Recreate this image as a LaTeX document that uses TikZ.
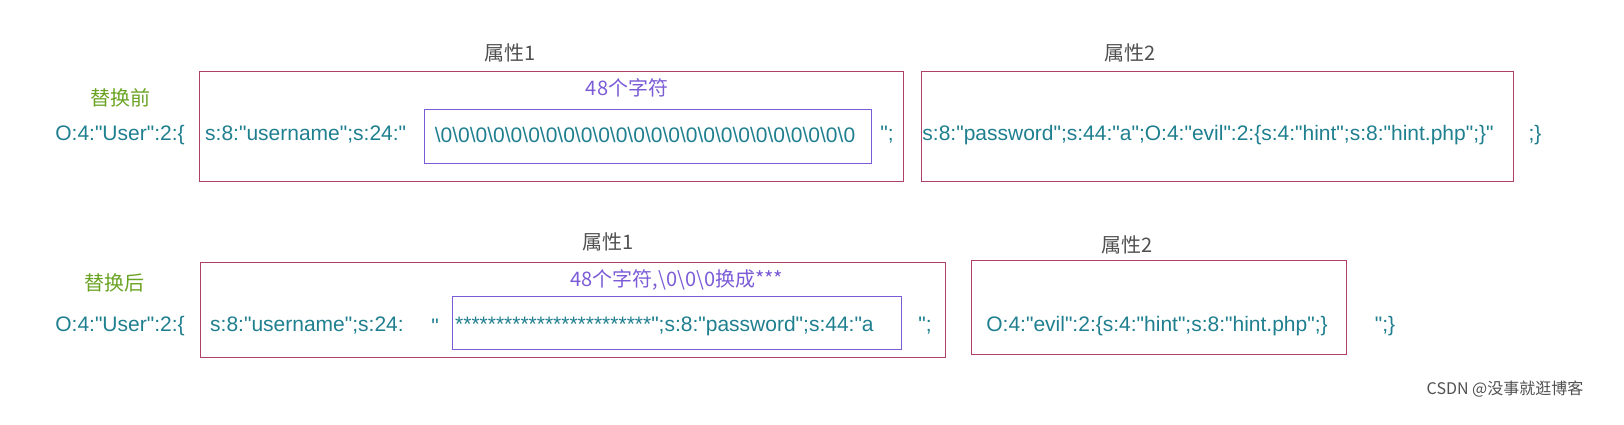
\documentclass[tikz,border=0pt]{standalone}
\usepackage{fontspec}
\setmainfont{Liberation Sans}[Ligatures=TeXOff]
\newfontfamily\cjk{Noto Sans CJK SC}[Ligatures=TeXOff]
\definecolor{teal}{HTML}{1F7F8F}
\definecolor{boxred}{HTML}{B0406A}
\definecolor{purp}{HTML}{7B5CD6}
\definecolor{grn}{HTML}{6AA322}
\definecolor{gr}{HTML}{505050}
\begin{document}
\begin{tikzpicture}[x=1pt,y=-1pt,
  t/.style={text=teal,font=\fontsize{21}{24}\selectfont,inner sep=0pt},
  lab/.style={text=gr,font=\cjk\fontsize{20}{22}\selectfont,inner sep=0pt},
  pl/.style={text=purp,font=\cjk\fontsize{20}{22}\selectfont,inner sep=0pt},
  gl/.style={text=grn,font=\cjk\fontsize{20}{22}\selectfont,inner sep=0pt},
  rb/.style={draw=boxred,line width=1pt},
  pb/.style={draw=purp,line width=1pt}]
\useasboundingbox (0,0) rectangle (1624,424);
% row 1
\node[lab] (a1) at (510,53) {属性1};
\node[lab] (a2) at (1130,53) {属性2};
\node[gl] (b1) at (120,98) {替换前};
\node[t] (u1) at (120,135) {O:4:"User":2:\{};
\draw[rb] (199,71) rectangle (903,181);
\draw[rb] (921,71) rectangle (1513,181);
\draw[pb] (424,109) rectangle (871,163);
\node[pl] (c1) at (627,88) {48个字符};
\node[t,anchor=west] (s1) at (205,135) {s:8:"username";s:24:"};
\node[t] (z1) at (645,135) {\textbackslash0\textbackslash0\textbackslash0\textbackslash0\textbackslash0\textbackslash0\textbackslash0\textbackslash0\textbackslash0\textbackslash0\textbackslash0\textbackslash0\textbackslash0\textbackslash0\textbackslash0\textbackslash0\textbackslash0\textbackslash0\textbackslash0\textbackslash0\textbackslash0\textbackslash0\textbackslash0\textbackslash0};
\node[t] (q1) at (887,135) {";};
\node[t] (p1) at (1208,135) {s:8:"password";s:44:"a";O:4:"evil":2:\{s:4:"hint";s:8:"hint.php";\}"};
\node[t] (e1) at (1535,135) {;\}};
% row 2
\node[lab] (a3) at (608,242) {属性1};
\node[lab] (a4) at (1127,245) {属性2};
\node[gl] (b2) at (114,283) {替换后};
\node[t] (u2) at (120,326) {O:4:"User":2:\{};
\draw[rb] (200,262) rectangle (945,357);
\draw[rb] (971,260) rectangle (1346,354);
\draw[pb] (452,296) rectangle (901,349);
\node[pl] (c2) at (677,280) {48个字符,\textbackslash0\textbackslash0\textbackslash0换成***};
\node[t,anchor=west] (s2) at (210,326) {s:8:"username";s:24:};
\node[t] (q0) at (435,326) {"};
\node[t,anchor=west] (st) at (455,326) {************************";s:8:"password";s:44:"a};
\node[t] (q2) at (925,326) {";};
\node[t] (ev) at (1157,326) {O:4:"evil":2:\{s:4:"hint";s:8:"hint.php";\}};
\node[t] (e2) at (1385,326) {";\}};
\node[text=gr,font=\cjk\fontsize{16}{18}\selectfont,inner sep=0pt] (w) at (1505,389) {CSDN @没事就逛博客};
\end{tikzpicture}
\end{document}
